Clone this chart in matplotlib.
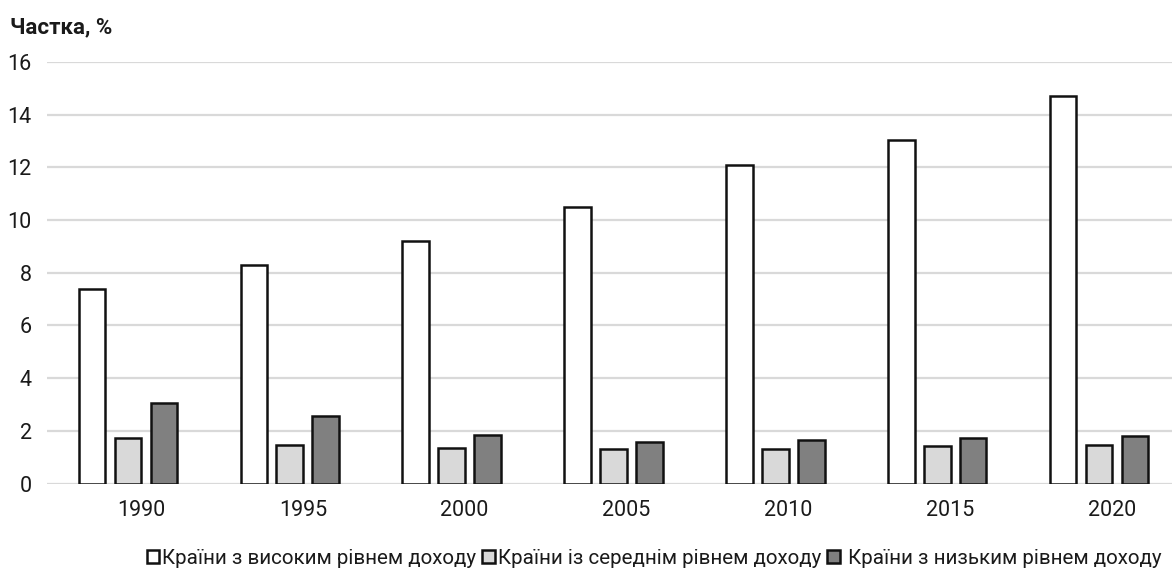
import numpy as np
import matplotlib.pyplot as plt
import matplotlib.transforms as mtransforms

plt.rcParams['font.family'] = ['Roboto', 'DejaVu Sans']

years = ["1990", "1995", "2000", "2005", "2010", "2015", "2020"]
high_income = [7.4, 8.28, 9.22, 10.5, 12.08, 13.04, 14.7]
middle_income = [1.71, 1.47, 1.36, 1.32, 1.32, 1.42, 1.47]
low_income = [3.06, 2.58, 1.86, 1.57, 1.66, 1.71, 1.79]

series_labels = [
    "Країни з високим рівнем доходу",
    "Країни із середнім рівнем доходу",
    " Країни з низьким рівнем доходу",
]
colors = ["#ffffff", "#d9d9d9", "#808080"]

fig = plt.figure(figsize=(11.72, 5.80), dpi=100)
ax = fig.add_axes([47 / 1172, 96.5 / 580, (1180 - 47) / 1172, 421.5 / 580])

x = np.arange(len(years))
offset = 0.222
width = 0.165
handles = []
for i, (vals, col, lab) in enumerate(zip([high_income, middle_income, low_income], colors, series_labels)):
    h = ax.bar(x + (i - 1) * offset, vals, width, color=col, edgecolor="#111111",
               linewidth=1.8, label=lab, zorder=3)
    handles.append(h)

ax.set_xlim(-0.5, len(years) - 0.5)
ax.set_ylim(0, 16)
ax.set_yticks(range(0, 17, 2))
ax.set_xticks(x)
ax.set_xticklabels(years)
ax.grid(axis="y", color="#d9d9d9", linewidth=1.6, zorder=0)
ax.set_axisbelow(True)
for s in ax.spines.values():
    s.set_visible(False)
ax.tick_params(axis="both", length=0, labelsize=15.5, colors="#1a1a1a")
ax.tick_params(axis="y", pad=11)
ax.tick_params(axis="x", pad=12)
shift = mtransforms.ScaledTranslation(13 / 100, 0, fig.dpi_scale_trans)
for lbl in ax.get_xticklabels():
    lbl.set_transform(lbl.get_transform() + shift)

fig.text(10 / 1172, 1 - 27 / 580, "Частка, %", fontsize=16, fontweight="bold",
         va="center", ha="left", color="#1a1a1a")

fig.legend(handles=handles, loc="center", bbox_to_anchor=(654 / 1172, 1 - 558 / 580),
           ncol=3, frameon=False, fontsize=14.8, handlelength=0.6, handleheight=0.6,
           handletextpad=0.15, columnspacing=0.3, labelcolor="#1a1a1a")

fig.savefig("out.png", dpi=100)
